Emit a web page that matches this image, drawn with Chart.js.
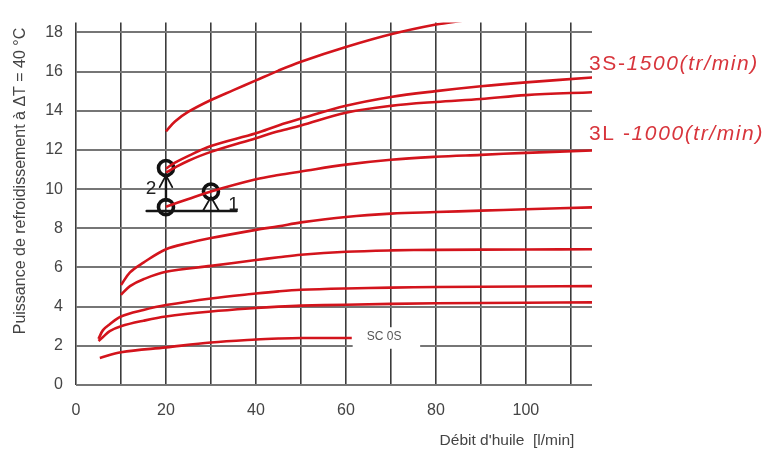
<!DOCTYPE html>
<html>
<head>
<meta charset="utf-8">
<script src="https://cdn.jsdelivr.net/npm/chart.js@4/dist/chart.umd.min.js"></script>
<style>
  html, body { margin: 0; padding: 0; background: #fff; }
  canvas { display: block; }
</style>
</head>
<body>
<canvas id="c" width="773" height="459"></canvas>
<script>
const xA = [20, 22, 25, 30, 35, 40, 45, 50, 60, 70, 80, 86];
const yA = [12.95, 13.45, 13.95, 14.55, 15.05, 15.55, 16.05, 16.5, 17.25, 17.9, 18.4, 18.6];

const xB = [20, 22, 25, 30, 40, 45, 50, 60, 70, 80, 90, 100, 115];
const yB = [11.05, 11.35, 11.7, 12.2, 12.85, 13.25, 13.6, 14.25, 14.7, 15.0, 15.25, 15.45, 15.7];

const xC = [20, 22, 25, 30, 40, 45, 50, 60, 70, 80, 90, 100, 115];
const yC = [10.85, 11.1, 11.45, 11.9, 12.6, 12.95, 13.25, 13.9, 14.25, 14.45, 14.6, 14.8, 14.95];

const xD = [20, 25, 30, 40, 45, 50, 60, 70, 80, 90, 100, 115];
const yD = [9.1, 9.5, 9.88, 10.5, 10.72, 10.9, 11.25, 11.5, 11.65, 11.75, 11.85, 11.97];

const xE = [10, 12, 15, 20, 25, 30, 40, 45, 50, 60, 70, 80, 90, 100, 115];
const yE = [5.1, 5.75, 6.25, 6.93, 7.25, 7.5, 7.92, 8.1, 8.3, 8.58, 8.75, 8.83, 8.9, 8.97, 9.07];

const xF = [10, 12, 15, 20, 30, 40, 45, 50, 60, 70, 80, 100, 115];
const yF = [4.6, 5.05, 5.4, 5.78, 6.08, 6.38, 6.52, 6.65, 6.8, 6.87, 6.9, 6.92, 6.93];

const xG = [5, 6, 7.5, 10, 15, 20, 30, 40, 45, 50, 60, 70, 80, 100, 115];
const yG = [2.35, 2.8, 3.1, 3.5, 3.83, 4.08, 4.42, 4.67, 4.78, 4.86, 4.93, 4.97, 5.0, 5.03, 5.05];

const xH = [5, 6, 7.5, 10, 15, 20, 30, 40, 45, 50, 60, 80, 100, 115];
const yH = [2.25, 2.45, 2.75, 3.0, 3.28, 3.5, 3.75, 3.93, 4.0, 4.05, 4.1, 4.17, 4.2, 4.22];

const xSC = [5.3, 10, 20, 30, 40, 45, 50, 61.3];
const ySC = [1.38, 1.67, 1.92, 2.17, 2.32, 2.37, 2.4, 2.4];

// points de fonctionnement (cercles)
const xPts = [20, 20, 30];
const yPts = [11.08, 9.08, 9.88];

const xTicks = [0, 20, 40, 60, 80, 100];
const yTicks = [0, 2, 4, 6, 8, 10, 12, 14, 16, 18];

const RED = '#d3141c';
const FONT = '"Liberation Sans", Arial, sans-serif';
const pts = (xs, ys) => xs.map((x, i) => ({ x, y: ys[i] }));

const curve = (xs, ys) => ({
  data: pts(xs, ys),
  borderColor: RED,
  borderWidth: 2.6,
  pointRadius: 0,
  fill: false,
  tension: 0.35
});

// annotations dessinées à la main sur l'abaque
const overlay = {
  id: 'overlay',
  beforeDatasetsDraw(chart) {
    const { ctx, scales: { x, y } } = chart;
    ctx.save();
    // étiquette SC 0S sur fond blanc
    const x0 = x.getPixelForValue(61.5), x1 = x.getPixelForValue(76.5);
    const y0 = y.getPixelForValue(2.95), y1 = y.getPixelForValue(1.85);
    ctx.fillStyle = '#fff';
    ctx.fillRect(x0, y0, x1 - x0, y1 - y0);
    ctx.fillStyle = '#555';
    ctx.font = '12px ' + FONT;
    ctx.textAlign = 'center';
    ctx.textBaseline = 'middle';
    ctx.fillText('SC 0S', x.getPixelForValue(68.5), y.getPixelForValue(2.45));
    ctx.restore();
  },
  afterDatasetsDraw(chart) {
    const { ctx, scales: { x, y } } = chart;
    const px = v => x.getPixelForValue(v), py = v => y.getPixelForValue(v);
    ctx.save();
    ctx.strokeStyle = '#151515';
    ctx.lineCap = 'round';
    ctx.lineWidth = 2.4;
    ctx.beginPath();
    ctx.moveTo(px(15.7), py(8.88)); ctx.lineTo(px(35.7), py(8.88));
    ctx.moveTo(px(20), py(9.4)); ctx.lineTo(px(20), py(10.75));
    ctx.stroke();
    ctx.lineWidth = 1.8;
    ctx.beginPath();
    // flèches sous les cercles
    ctx.moveTo(px(18.6), py(10.1)); ctx.lineTo(px(20), py(10.7)); ctx.lineTo(px(21.4), py(10.1));
    ctx.moveTo(px(28.3), py(8.92)); ctx.lineTo(px(30), py(9.6)); ctx.lineTo(px(31.7), py(8.92));
    ctx.stroke();
    ctx.fillStyle = '#222';
    ctx.font = '19px ' + FONT;
    ctx.textAlign = 'center';
    ctx.textBaseline = 'middle';
    ctx.fillText('2', px(16.7), py(10.0));
    ctx.fillText('1', px(35.0), py(9.2));
    ctx.restore();
  },
  afterDraw(chart) {
    const { ctx } = chart;
    ctx.save();
    // titres des axes
    ctx.fillStyle = '#444';
    ctx.font = '15.5px ' + FONT;
    ctx.textAlign = 'center';
    ctx.textBaseline = 'middle';
    ctx.fillText("Débit d'huile  [l/min]", 507, 441);
    ctx.translate(21, 181);
    ctx.rotate(-Math.PI / 2);
    ctx.font = '16px ' + FONT;
    ctx.fillText('Puissance de refroidissement à ΔT = 40 °C', 0, 0);
    ctx.restore();

    // repères des courbes
    ctx.save();
    ctx.fillStyle = '#d8353c';
    ctx.textBaseline = 'alphabetic';
    ctx.textAlign = 'left';
    ctx.letterSpacing = '1.6px';
    const label = (a, b, xx, yy) => {
      ctx.font = '21px ' + FONT;
      ctx.fillText(a, xx, yy);
      const w = ctx.measureText(a).width;
      ctx.font = 'italic 21px ' + FONT;
      ctx.fillText(b, xx + w, yy);
    };
    label('3S-', '1500(tr/min)', 589, 70);
    label('3L -', '1000(tr/min)', 589, 140);
    ctx.restore();
  }
};

new Chart(document.getElementById('c'), {
  type: 'line',
  data: {
    datasets: [
      curve(xA, yA), curve(xB, yB), curve(xC, yC), curve(xD, yD),
      curve(xE, yE), curve(xF, yF), curve(xG, yG), curve(xH, yH),
      curve(xSC, ySC),
      {
        data: pts(xPts, yPts),
        showLine: false,
        pointStyle: 'circle',
        pointRadius: 7.5,
        pointBorderWidth: 3.6,
        pointBorderColor: '#111',
        pointBackgroundColor: 'rgba(255,255,255,0)'
      }
    ]
  },
  options: {
    responsive: false,
    animation: false,
    layout: { padding: { left: 0, right: 181, top: 15, bottom: 0 } },
    plugins: { legend: { display: false }, tooltip: { enabled: false } },
    scales: {
      x: {
        type: 'linear',
        min: 0, max: 114.7,
        afterFit: s => { s.height = 74; },
        ticks: {
          stepSize: 10, includeBounds: false, padding: 16,
          color: '#444', font: { size: 16, family: FONT },
          callback: v => xTicks.includes(v) ? String(v) : ''
        },
        grid: { color: '#3c3c3c', lineWidth: 1.6, drawTicks: false },
        border: { display: false }
      },
      y: {
        min: 0, max: 18.5,
        afterFit: s => { s.width = 76; },
        ticks: {
          stepSize: 1, includeBounds: false, padding: 13,
          color: '#444', font: { size: 16, family: FONT },
          callback: v => yTicks.includes(v) ? String(v) : ''
        },
        grid: { color: '#767676', lineWidth: 2, drawTicks: false },
        border: { display: false }
      }
    }
  },
  plugins: [overlay]
});
</script>
</body>
</html>
